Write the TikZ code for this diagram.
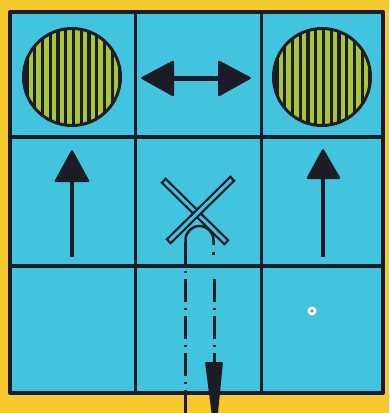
\documentclass[tikz,border=0pt]{standalone}
\definecolor{bg}{RGB}{246,202,44}
\definecolor{cell}{RGB}{66,196,222}
\definecolor{ink}{RGB}{28,28,38}
\definecolor{leaf}{RGB}{168,198,58}
\tikzset{
  gridline/.style={ink,line width=3pt},
  gridthick/.style={ink,line width=4pt},
  headfill/.style={fill=ink,rounded corners=1.5pt},
  dashdot/.style={ink,line width=3pt,dash pattern=on 23pt off 6pt on 2pt off 6pt},
  barout/.style={ink,line width=7.5pt},
  barin/.style={cell,line width=3pt,shorten <=2.3pt,shorten >=2.3pt}
}
\begin{document}
\begin{tikzpicture}[x=1pt,y=-1pt,line join=round]
\useasboundingbox (0,0) rectangle (389,413);
\fill[bg] (0,0) rectangle (389,413);
\begin{scope}
\clip (0,0) rectangle (389,413);
\fill[cell] (10,12) rectangle (383,393);
% striped circles
\foreach \cx in {72,322}{
  \begin{scope}
    \clip (\cx,77) circle[radius=48.5pt];
    \fill[leaf] (\cx,77) circle[radius=48.5pt];
    \foreach \k in {-6,...,6}{
      \fill[ink] ({\cx+1.5+7.75*\k-1.6},20) rectangle ({\cx+1.5+7.75*\k+1.6},135);
    }
  \end{scope}
  \draw[ink,line width=3pt] (\cx,77) circle[radius=48.5pt];
}
% grid
\draw[gridline] (135,12)--(135,393) (261,12)--(261,393);
\draw[gridthick] (10,137)--(383,137) (10,266)--(383,266);
\draw[gridthick] (10,12) rectangle (383,393);
% double arrow
\draw[ink,line width=5pt] (172,78)--(220,78);
\path[headfill] (140,78)--(174,60)--(174,97)--cycle;
\path[headfill] (252,78)--(218,60)--(218,97)--cycle;
% up arrows
\draw[ink,line width=4pt] (72,180)--(72,257);
\path[headfill] (72,149)--(90,182)--(54,182)--cycle;
\draw[ink,line width=4pt] (323,177)--(323,257);
\path[headfill] (323,148)--(341,179)--(306,179)--cycle;
% arch
\draw[ink,line width=2.5pt] (185.5,257)--(185.5,240) arc[start angle=180,end angle=0,radius=14pt] -- (213.5,245);
% crossed bars
\draw[barout] (163,180)--(227,243);
\draw[barin] (163,180)--(227,243);
\draw[barout] (233,178)--(168,242);
\draw[barin] (233,178)--(168,242);
% dash-dot lines
\draw[dashdot] (185.5,242)--(185.5,391);
\draw[ink,line width=3pt] (185.5,392)--(185.5,415);
\draw[ink,line width=3pt] (213.5,252)--(213.5,254.5);
\draw[dashdot] (214,279)--(214,363);
\path[fill=ink,rounded corners=1pt] (205,362)--(223,362)--(216.5,428)--(213.5,428)--cycle;
% small dot
\fill[white] (312,311) circle[radius=4.5pt];
\fill[gray] (312,311) circle[radius=1.6pt];
\end{scope}
\end{tikzpicture}
\end{document}
